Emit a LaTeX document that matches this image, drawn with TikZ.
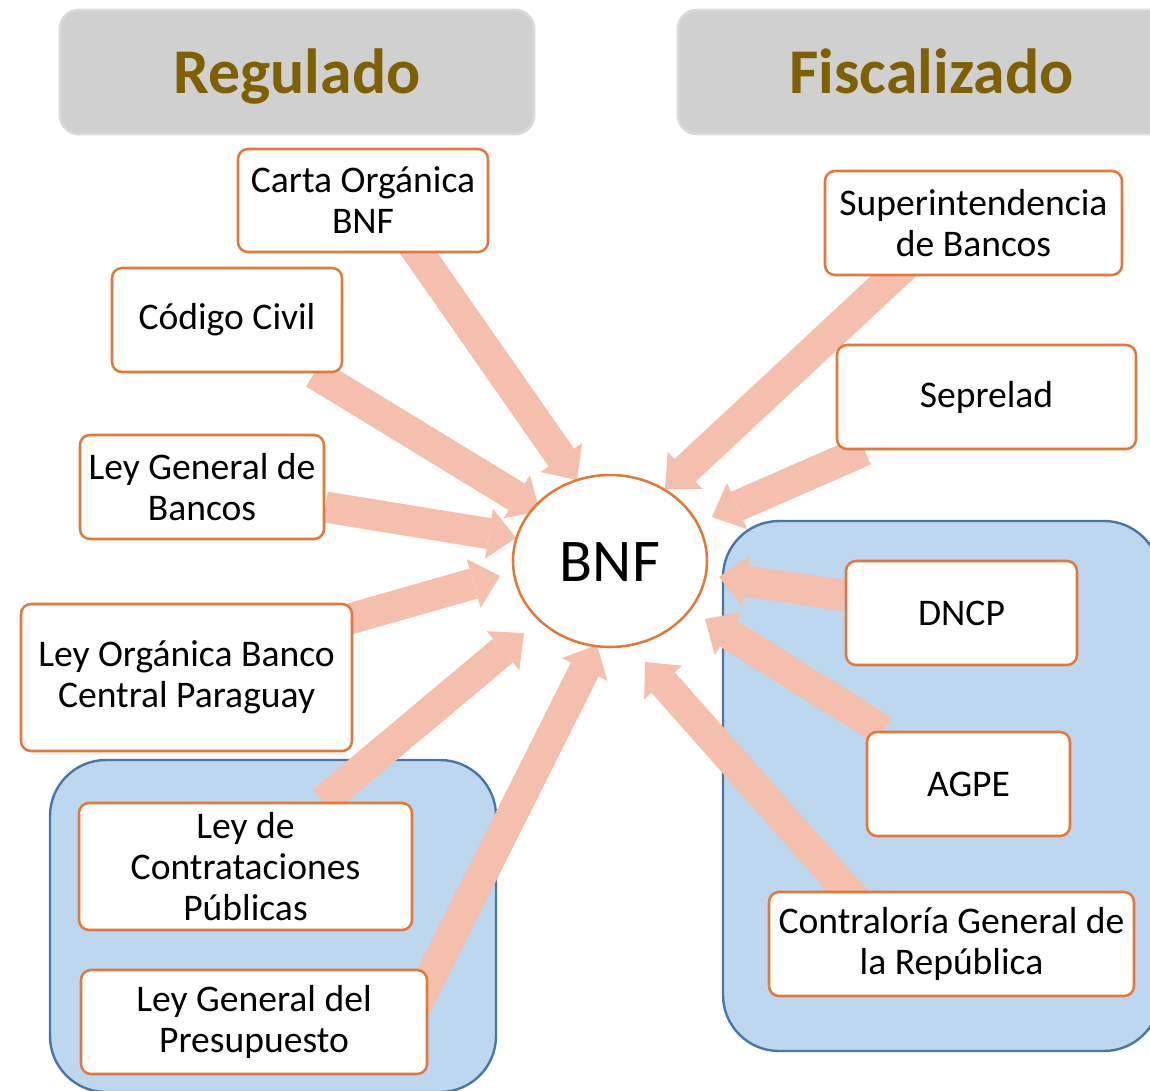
\documentclass[tikz,border=0pt]{standalone}
\usepackage{fontspec}
\setmainfont{Carlito}
\usetikzlibrary{arrows.meta,shapes.geometric,calc}
\definecolor{boxor}{HTML}{E2783A}
\definecolor{arrowc}{HTML}{F4BFAC}
\definecolor{panelfill}{HTML}{BDD7EE}
\definecolor{paneldraw}{HTML}{4A76A6}
\definecolor{titlefill}{HTML}{D0D0D0}
\definecolor{titleedge}{HTML}{DADADA}
\definecolor{titletext}{HTML}{7F6000}
\pgfdeclarelayer{panels}
\pgfdeclarelayer{arrows}
\pgfsetlayers{panels,arrows,main}
\begin{document}
\begin{tikzpicture}[x=0.75pt,y=-0.75pt,
  box/.style={draw=boxor, line width=1.9pt, fill=white, rounded corners=7.5pt,
    inner sep=0pt, align=center, minimum height=78pt,
    font=\fontsize{28.2pt}{30.75pt}\selectfont},
  panel/.style={draw=paneldraw, line width=1.8pt, fill=panelfill, rounded corners=42pt},
  titlebox/.style={fill=titlefill, draw=titleedge, line width=2pt, rounded corners=14pt,
    inner sep=0pt, minimum height=93pt, text=titletext, text height=32pt, text depth=0pt,
    font=\fontsize{47.8pt}{50pt}\selectfont\bfseries},
  arr/.style={draw=arrowc, line width=23.25pt,
    -{Triangle[length=20.5pt,width=38pt,line width=0pt]}}]
\useasboundingbox (0,0) rectangle (1150,1090);

% titles
\node[titlebox, minimum width=355.5pt] (reg) at (297,72) {Regulado};
\node[titlebox, minimum width=380.25pt] (fis) at (931.5,72) {Fiscalizado};

% centre
\node[ellipse, draw=boxor, line width=1.9pt, fill=white, inner sep=0pt,
  minimum width=145.5pt, minimum height=129pt, text height=30pt, text depth=0pt,
  font=\fontsize{45.5pt}{48pt}\selectfont] (bnf) at (610,561) {BNF};

% left boxes
\node[box, minimum width=187.5pt, minimum height=77.25pt] (carta) at (363,200.5) {Carta Orgánica\\BNF};
\node[box, minimum width=172.5pt] (codigo) at (227,320) {Código Civil};
\node[box, minimum width=183pt] (lgb) at (202,487) {Ley General de\\Bancos};
\node[box, minimum width=248.25pt, minimum height=110.25pt] (lobcp) at (186.5,677.5) {Ley Orgánica Banco\\Central Paraguay};
\node[box, minimum width=249.75pt, minimum height=95.25pt] (lcp) at (245.5,866.5) {Ley de\\Contrataciones\\Públicas};
\node[box, minimum width=259.5pt] (lgp) at (254,1022) {Ley General del\\Presupuesto};

% right boxes
\node[box, minimum width=222.75pt] (sup) at (973.5,223) {Superintendencia\\de Bancos};
\node[box, minimum width=224.25pt] (sep) at (986.5,397) {Seprelad};
\node[box, minimum width=173.25pt] (dncp) at (961.5,613) {DNCP};
\node[box, minimum width=152.25pt] (agpe) at (968.5,784) {AGPE};
\node[box, minimum width=273.75pt] (cgr) at (951.5,944) {Contraloría General de\\la República};

% arrow tips near BNF
\coordinate (t1) at (577,480);
\coordinate (t2) at (540,511);
\coordinate (t3) at (516,538);
\coordinate (t4) at (500,576);
\coordinate (t5) at (524,633);
\coordinate (t6) at (597,645);
\coordinate (t7) at (665,489);
\coordinate (t8) at (712,517);
\coordinate (t9) at (719,577);
\coordinate (t10) at (705,619);
\coordinate (t11) at (645,662);

\begin{pgfonlayer}{panels}
  \path[panel] (50,760) rectangle (496,1092);
  \path[panel] (723,521) rectangle (1160,1051);
\end{pgfonlayer}

\begin{pgfonlayer}{arrows}
  \draw[arr] ($(carta)+(19,0)$) -- (t1);
  \draw[arr] (codigo) -- (t2);
  \draw[arr] (lgb) -- (t3);
  \draw[arr] ($(lobcp)+(0,-12)$) -- (t4);
  \draw[arr] (lcp) -- (t5);
  \draw[arr] ($(lgp)+(154,0)$) -- (t6);
  \draw[arr] ($(sup)+(-23,0)$) -- (t7);
  \draw[arr] (sep) -- (t8);
  \draw[arr] (dncp) -- (t9);
  \draw[arr] (agpe) -- (t10);
  \draw[arr] ($(cgr)+(-57,0)$) -- (t11);
\end{pgfonlayer}
\end{tikzpicture}
\end{document}
